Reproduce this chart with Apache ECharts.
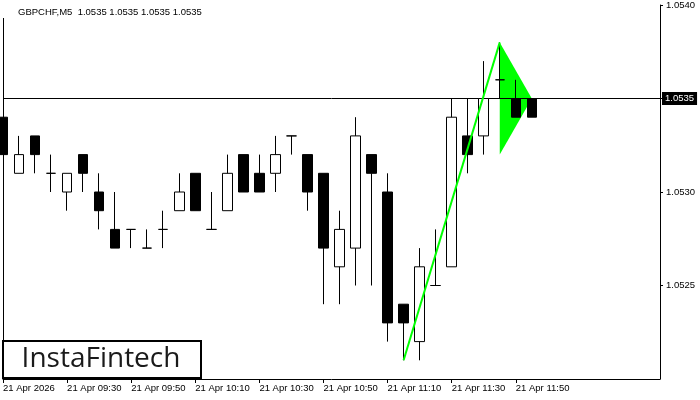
<!DOCTYPE html>
<html>
<head>
<meta charset="utf-8">
<script src="https://cdn.jsdelivr.net/npm/echarts@6/dist/echarts.min.js"></script>
<style>
html,body{margin:0;padding:0;background:#fff;}
#c{width:700px;height:400px;}
</style>
</head>
<body>
<div id="c"></div>
<script>
// ---- data ----
var times = ['09:10','09:15','09:20','09:25','09:30','09:35','09:40','09:45','09:50','09:55',
  '10:00','10:05','10:10','10:15','10:20','10:25','10:30','10:35','10:40','10:45',
  '10:50','10:55','11:00','11:05','11:10','11:15','11:20','11:25','11:30','11:35',
  '11:40','11:45','11:50','11:55','12:00','12:05','12:10','12:15','12:20','12:25',
  '12:30','12:35'];
var opens  = [1.0534,1.0531,1.0533,1.0531,1.0530,1.0532,1.0530,1.0528,1.0528,1.0527,
  1.0528,1.0529,1.0531,1.0528,1.0529,1.0532,1.0531,1.0531,1.0533,1.0532,
  1.0531,1.0526,1.0527,1.0532,1.0530,1.0524,1.0522,1.0525,1.0526,1.0533,
  1.0533,1.0536,1.0535,1.0535,1.0535];
var closes = [1.0532,1.0532,1.0532,1.0531,1.0531,1.0531,1.0529,1.0527,1.0528,1.0527,
  1.0528,1.0530,1.0529,1.0528,1.0531,1.0530,1.0530,1.0532,1.0533,1.0530,
  1.0527,1.0528,1.0533,1.0531,1.0523,1.0523,1.0526,1.0525,1.0534,1.0532,
  1.0535,1.0536,1.0534,1.0534,1.0535];
var lows   = [1.0532,1.0531,1.0531,1.0530,1.0529,1.0530,1.0528,1.0527,1.0527,1.0527,
  1.0527,1.0529,1.0529,1.0528,1.0529,1.0530,1.0530,1.0530,1.0532,1.0529,
  1.0524,1.0524,1.0525,1.0525,1.0522,1.0521,1.0521,1.0525,1.0526,1.0531,
  1.0532,1.0535,1.0534,1.0534,1.0535];
var highs  = [1.0534,1.0533,1.0533,1.0532,1.0531,1.0532,1.0531,1.0530,1.0528,1.0528,
  1.0529,1.0531,1.0531,1.0530,1.0532,1.0532,1.0532,1.0533,1.0533,1.0532,
  1.0531,1.0529,1.0534,1.0532,1.0531,1.0524,1.0527,1.0528,1.0535,1.0535,
  1.0537,1.0538,1.0536,1.0535,1.0535];
var lastPrice = 1.0535;
var poleX = ['11:15','11:45'];
var poleY = [1.0521, 1.0538];
var pennantX = ['11:45','11:45','11:55'];
var pennantY = [1.0538, 1.0532, 1.0535];
var yTicks = {min: 1.0520, max: 1.0540, interval: 0.0005};
var dateLabel = '21 Apr 2026';
var dayPrefix = '21 Apr ';
var lastLabelIndex = 32;

// ---- build ----
var candleData = opens.map(function(o, i){ return [o, closes[i], lows[i], highs[i]]; });
var poleData = poleX.map(function(x, i){ return [x, poleY[i]]; });
var priceLineData = [[times[0], lastPrice], [times[times.length - 1], lastPrice]];
var FONT = 'Liberation Sans';

var chart = echarts.init(document.getElementById('c'), null, {renderer: 'canvas'});
chart.setOption({
  animation: false,
  backgroundColor: '#fff',
  grid: {left: 3, right: 40, top: 4, bottom: 21, show: false},
  xAxis: {
    type: 'category',
    data: times,
    boundaryGap: false,
    axisLine: {show: true, lineStyle: {color: '#000', width: 1}},
    axisTick: {show: true, length: 4, lineStyle: {color: '#000'},
      interval: function(i){ return i % 4 === 0 && i <= lastLabelIndex; }},
    axisLabel: {
      show: true, color: '#000', fontFamily: FONT, fontSize: 9.5, align: 'left', margin: 4,
      interval: function(i){ return i % 4 === 0 && i <= lastLabelIndex; },
      formatter: function(v, i){ return i === 0 ? dateLabel : dayPrefix + v; }
    },
    splitLine: {show: false}
  },
  yAxis: [{
    type: 'value', position: 'right',
    min: yTicks.min, max: yTicks.max, interval: yTicks.interval,
    axisLine: {show: true, lineStyle: {color: '#000', width: 1}},
    axisTick: {show: true, length: 3, lineStyle: {color: '#000'}},
    axisLabel: {color: '#000', fontFamily: FONT, fontSize: 9.5, margin: 6, showMinLabel: false,
      formatter: function(v){ return v.toFixed(4); }},
    splitLine: {show: false}
  }, {
    type: 'value', position: 'left',
    min: yTicks.min, max: yTicks.max,
    axisLine: {show: true, lineStyle: {color: '#000', width: 1}},
    axisTick: {show: false}, axisLabel: {show: false}, splitLine: {show: false}
  }],
  series: [{
    type: 'custom',
    z: 1,
    coordinateSystem: 'cartesian2d',
    data: [[0, 0]],
    renderItem: function(params, api){
      var pts = pennantX.map(function(x, i){
        return api.coord([times.indexOf(x), pennantY[i]]);
      });
      return {type: 'polygon', shape: {points: pts}, style: {fill: '#00ff00', stroke: null}};
    },
    silent: true
  }, {
    type: 'candlestick',
    z: 2,
    data: candleData,
    barWidth: 10,
    clip: true,
    itemStyle: {color: '#fff', color0: '#000', borderColor: '#000', borderColor0: '#000', borderWidth: 1}
  }, {
    type: 'line',
    z: 2,
    data: priceLineData,
    symbol: 'none',
    silent: true,
    lineStyle: {color: '#000', width: 1},
    endLabel: {
      show: true, formatter: function(){ return lastPrice.toFixed(4); },
      color: '#fff', backgroundColor: '#000', fontFamily: FONT, fontSize: 9.5,
      padding: [2, 3, 1, 3], distance: 2
    }
  }, {
    type: 'line',
    z: 3,
    data: poleData,
    symbol: 'none',
    lineStyle: {color: '#00ff00', width: 2},
    silent: true
  }],
  graphic: [{
    type: 'rect', shape: {x: 0, y: 0, width: 12, height: 18}, style: {fill: '#fff'}, z: 90
  }, {
    type: 'text', left: 18, top: 7, z: 91,
    style: {text: 'GBPCHF,M5  1.0535 1.0535 1.0535 1.0535', fill: '#000', font: '9.5px "Liberation Sans"'}
  }, {
    type: 'rect', shape: {x: 3, y: 341, width: 198, height: 37},
    style: {fill: '#fff', stroke: '#000', lineWidth: 2}, z: 100
  }, {
    type: 'text', x: 101, y: 359, z: 101,
    style: {text: 'InstaFintech', fill: '#1a1a1a', font: '28px "Open Sans"', textAlign: 'center', textVerticalAlign: 'middle'}
  }]
});
</script>
</body>
</html>
